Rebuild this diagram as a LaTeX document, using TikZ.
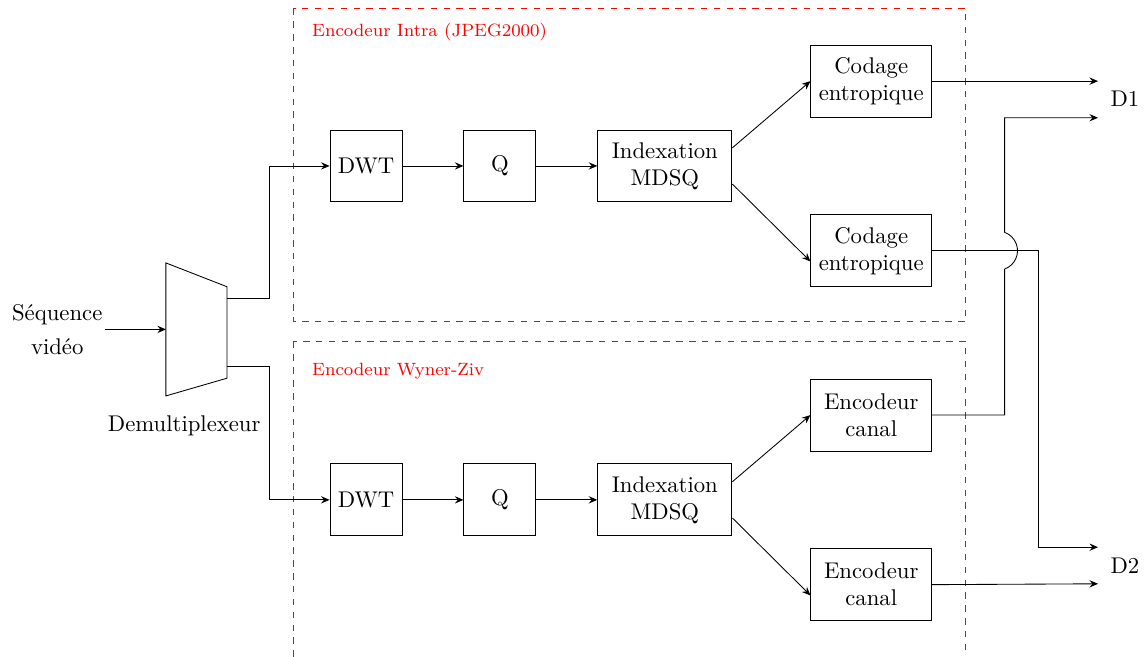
\documentclass[tikz,border=0pt]{standalone}
\usepackage{tikz}
\usetikzlibrary{arrows.meta,positioning,calc}

\begin{document}
\begin{tikzpicture}[
font=\fontsize{10.6}{12.6}\selectfont,
node distance=1cm,
block/.style={draw, align=center, minimum width=1.18cm, minimum height=1.18cm},
index/.style={block, minimum width=2.2cm},
coder/.style={block, minimum width=1.98cm},
encbox/.style={draw=red, dashed},
enclabel/.style={text=red, anchor=base west, inner sep=0pt, font=\fontsize{8.3}{10}\selectfont},
line/.style={-{Stealth[length=4pt, width=3.4pt, inset=1.4pt]}}
]
\useasboundingbox (0,0) rectangle (18.77,-10.754);

% --- Encoder frames ---
\draw[encbox] (4.81,-0.14) rectangle (15.83,-5.27);
\draw[encbox] (4.81,-5.60) rectangle (15.83,-10.95);
\node[enclabel] (intralbl) at (5.11,-0.60) {Encodeur Intra (JPEG2000)};
\node[enclabel] (wzlbl) at (5.11,-6.16) {Encodeur Wyner-Ziv};

% --- Demultiplexer ---
\coordinate (dmxin) at (2.72,-5.40);
\coordinate (dmxo1) at (3.72,-4.90);
\coordinate (dmxo2) at (3.72,-6.00);
\draw (2.72,-4.31) -- (3.72,-4.70) -- (3.72,-6.20) -- (2.72,-6.49) -- cycle;
\node (dmxlbl) at (3.02,-6.98) {Demultiplexeur};
\node[left=of dmxin, inner sep=1pt, align=center] (src) {Séquence\\[3pt]vidéo};

% --- Intra branch ---
\node[block] (dwt1) at (6,-2.72) {DWT};
\node[block, right=of dwt1] (q1) {Q};
\node[index, right=of q1] (idx1) {Indexation\\MDSQ};
\node[coder, right=1.28cm of idx1, yshift=1.39cm] (cod1) {Codage\\entropique};
\node[coder, right=1.28cm of idx1, yshift=-1.39cm] (cod2) {Codage\\entropique};

% --- Wyner-Ziv branch ---
\node[block, below=4.28cm of dwt1] (dwt2) {DWT};
\node[block, right=of dwt2] (q2) {Q};
\node[index, right=of q2] (idx2) {Indexation\\MDSQ};
\node[coder, right=1.28cm of idx2, yshift=1.39cm] (can1) {Encodeur\\canal};
\node[coder, right=1.28cm of idx2, yshift=-1.39cm] (can2) {Encodeur\\canal};

% --- Descriptions ---
\node (d1) at (18.44,-1.62) {D1};
\node (d2) at (18.44,-9.28) {D2};
\coordinate (d1a) at (18,-1.33);
\coordinate (d1b) at (18,-1.93);
\coordinate (d2a) at (18,-8.97);
\coordinate (d2b) at (18,-9.57);

% --- Connections ---
\draw[line] (src) -- (dmxin);
\draw[line] (dmxo1) -- ++(0.69,0) |- (dwt1.west);
\draw[line] (dmxo2) -- ++(0.69,0) |- (dwt2.west);

\draw[line] (dwt1) -- (q1);
\draw[line] (q1) -- (idx1);
\draw[line] (idx1.15) -- (cod1.west);
\draw[line] (idx1.-15) -- (cod2.190);

\draw[line] (dwt2) -- (q2);
\draw[line] (q2) -- (idx2);
\draw[line] (idx2.15) -- (can1.west);
\draw[line] (idx2.-15) -- (can2.190);

\draw[line] (cod1.east) -- (d1a);
\draw[line] (cod2.east) -| ($(d2a)+(-0.98,0)$) -- (d2a);
\draw[line] (can1.east) -| ($(cod2.east)+(1.19,-0.3)$)
  arc[start angle=-70, end angle=70, radius=0.32cm] |- (d1b);
\draw[line] (can2.east) -- (d2b);

\end{tikzpicture}
\end{document}
